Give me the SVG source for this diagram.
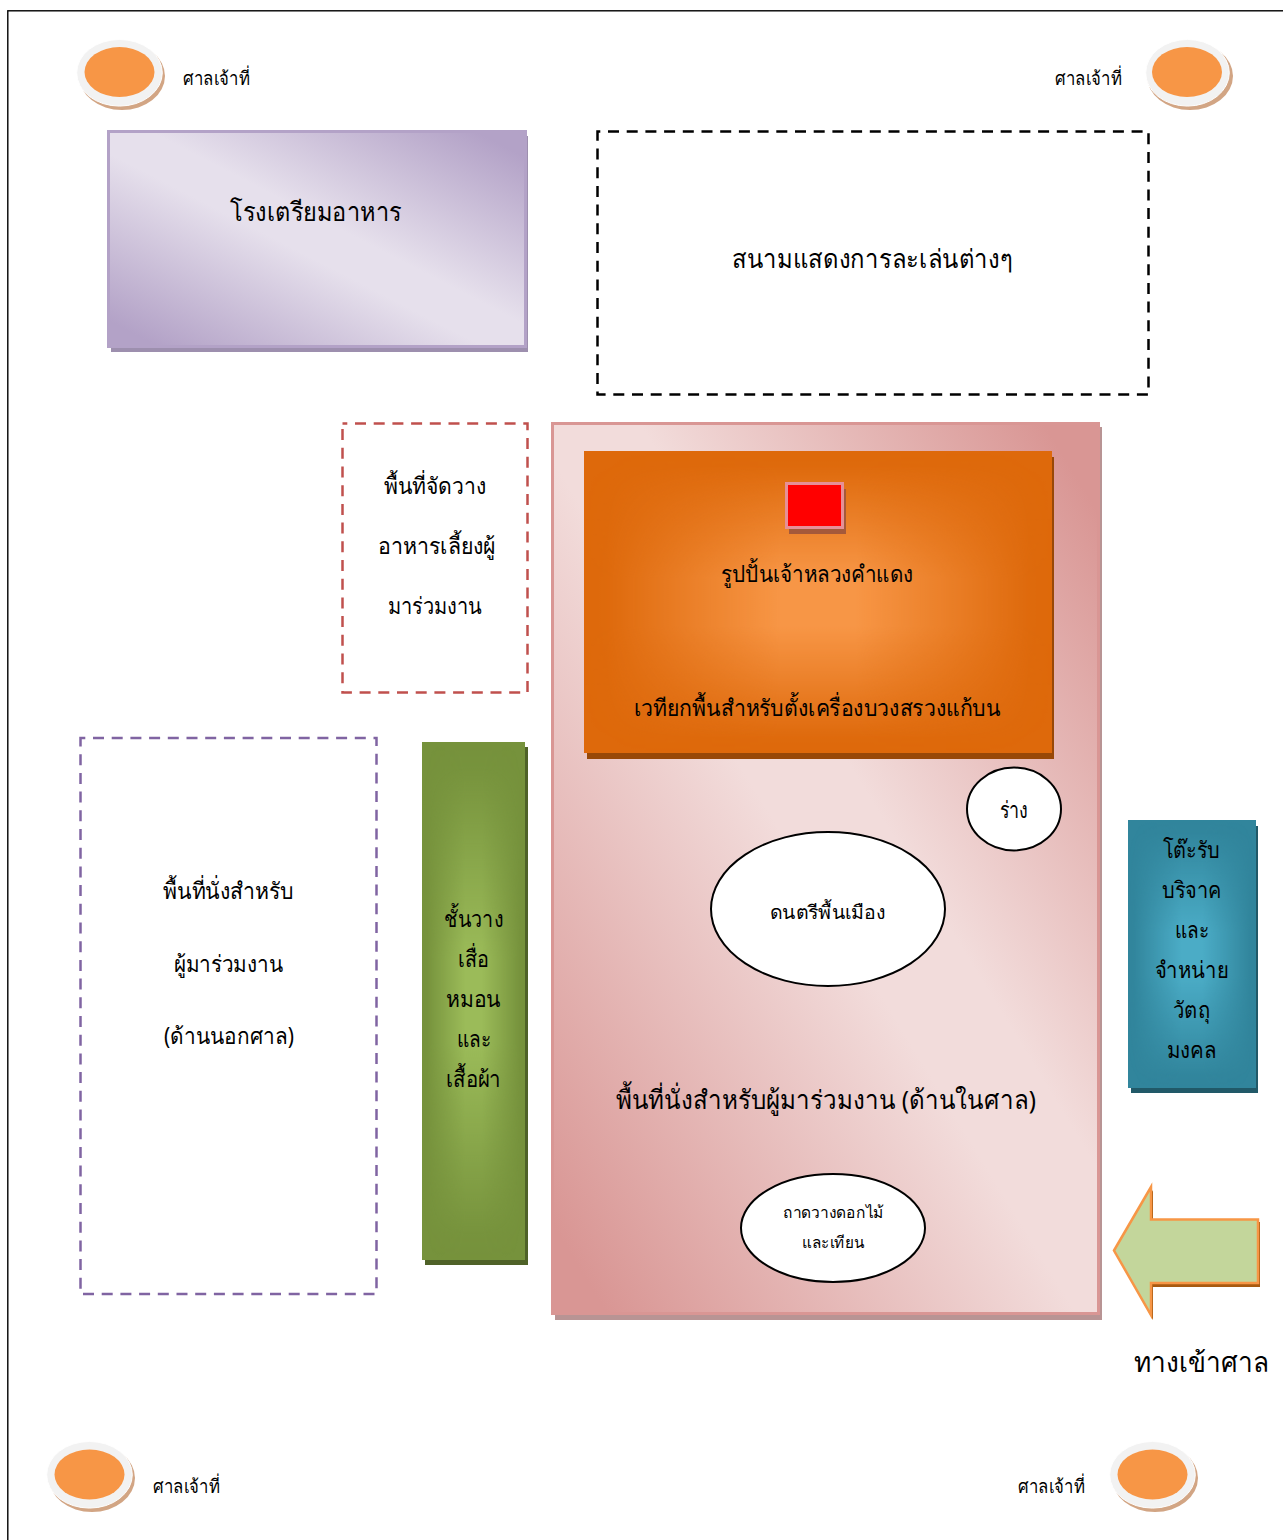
<svg xmlns="http://www.w3.org/2000/svg" width="1283" height="1540" viewBox="0 0 1283 1540">
<style>
text{font-family:"Noto Sans","DejaVu Sans","Liberation Sans",sans-serif;fill:#000;text-anchor:middle}
.s{font-size:19px}.m{font-size:23px}.l{font-size:26px}.xs{font-size:16px}
.sh{fill:#d2a584}.ring{fill:#f2f2f2;stroke:#fff;stroke-width:1}.core{fill:#f79646}
.e{fill:#fff;stroke:#000;stroke-width:2}
.d{fill:#fff;stroke-width:2.500;stroke-dasharray:11 7.700}
</style>
<defs>
<linearGradient id="gp" x1="1" y1="0" x2="0" y2="1"><stop offset="0" stop-color="#b3a2c7"/><stop offset=".06" stop-color="#b3a2c7"/><stop offset=".45" stop-color="#e6e0ec"/><stop offset=".55" stop-color="#e6e0ec"/><stop offset=".94" stop-color="#b3a2c7"/><stop offset="1" stop-color="#b3a2c7"/></linearGradient>
<linearGradient id="gr" x1="1" y1="0" x2="0" y2="1"><stop offset="0" stop-color="#d99694"/><stop offset=".05" stop-color="#d99694"/><stop offset=".42" stop-color="#f2dcdb"/><stop offset=".52" stop-color="#f2dcdb"/><stop offset=".95" stop-color="#d99694"/><stop offset="1" stop-color="#d99694"/></linearGradient>
<linearGradient id="hg"><stop offset="0" stop-color="#000"/><stop offset=".05" stop-color="#080808"/><stop offset=".25" stop-color="#909090"/><stop offset=".42" stop-color="#fff"/><stop offset=".58" stop-color="#fff"/><stop offset=".75" stop-color="#909090"/><stop offset=".95" stop-color="#080808"/><stop offset="1" stop-color="#000"/></linearGradient>
<linearGradient id="vg" x1="0" y1="0" x2="0" y2="1"><stop offset="0" stop-color="#000"/><stop offset=".05" stop-color="#080808"/><stop offset=".25" stop-color="#909090"/><stop offset=".42" stop-color="#fff"/><stop offset=".58" stop-color="#fff"/><stop offset=".75" stop-color="#909090"/><stop offset=".95" stop-color="#080808"/><stop offset="1" stop-color="#000"/></linearGradient>
<mask id="hm" maskContentUnits="objectBoundingBox" x="0" y="0" width="1" height="1"><rect width="1" height="1" fill="url(#hg)"/></mask>
<mask id="vm" maskContentUnits="objectBoundingBox" x="0" y="0" width="1" height="1"><rect width="1" height="1" fill="url(#vg)"/></mask>
</defs>
<rect x="7.800" y="10.800" width="1290" height="1545" fill="#fff" stroke="#000" stroke-width="1.400"/>
<g id="shrine-tl"><ellipse class="sh" cx="122" cy="76" rx="43" ry="34"/><ellipse class="ring" cx="119.500" cy="72.800" rx="42.800" ry="33.300"/><ellipse class="core" cx="119.500" cy="72" rx="35" ry="25"/><text class="s" x="216.500" y="85" textLength="67" lengthAdjust="spacingAndGlyphs">ศาลเจ้าที่</text></g>
<g id="shrine-tr"><ellipse class="sh" cx="1190" cy="76" rx="43" ry="34"/><ellipse class="ring" cx="1187.500" cy="72.800" rx="41.800" ry="33.300"/><ellipse class="core" cx="1187" cy="72" rx="35" ry="25"/><text class="s" x="1088.500" y="85" textLength="67" lengthAdjust="spacingAndGlyphs">ศาลเจ้าที่</text></g>
<g id="shrine-bl"><ellipse class="sh" cx="92" cy="1478" rx="43" ry="34"/><ellipse class="ring" cx="89.500" cy="1474.800" rx="42.800" ry="33.300"/><ellipse class="core" cx="89.500" cy="1474.500" rx="35" ry="25"/><text class="s" x="186.500" y="1493" textLength="67" lengthAdjust="spacingAndGlyphs">ศาลเจ้าที่</text></g>
<g id="shrine-br"><ellipse class="sh" cx="1155" cy="1478" rx="43" ry="34"/><ellipse class="ring" cx="1152.500" cy="1474.800" rx="42.800" ry="33.300"/><ellipse class="core" cx="1152.500" cy="1474.500" rx="35" ry="25"/><text class="s" x="1051.500" y="1493" textLength="67" lengthAdjust="spacingAndGlyphs">ศาลเจ้าที่</text></g>
<g id="kitchen"><rect x="111" y="136" width="417" height="216" fill="#9d8fae"/><rect x="108.500" y="131.500" width="417" height="215" fill="url(#gp)" stroke="#b3a2c7" stroke-width="3"/><text class="l" x="316" y="221" textLength="172" lengthAdjust="spacingAndGlyphs">โรงเตรียมอาหาร</text></g>
<g id="stage"><rect class="d" x="597.500" y="131.500" width="551" height="263" stroke="#000" stroke-dashoffset="8.200"/><text class="l" x="872.500" y="268" textLength="281" lengthAdjust="spacingAndGlyphs">สนามแสดงการละเล่นต่างๆ</text></g>
<g id="food"><rect class="d" x="342.500" y="423.500" width="185" height="269" stroke="#c0504d" stroke-dashoffset="6.200"/><text class="m" x="435" y="494" textLength="102" lengthAdjust="spacingAndGlyphs">พื้นที่จัดวาง</text><text class="m" x="436.500" y="554" textLength="117" lengthAdjust="spacingAndGlyphs">อาหารเลี้ยงผู้</text><text class="m" x="435" y="614" textLength="94" lengthAdjust="spacingAndGlyphs">มาร่วมงาน</text></g>
<g id="outer-seating"><rect class="d" x="80.500" y="738" width="296" height="556" stroke="#8064a2" stroke-dashoffset="6.200"/><text class="m" x="228.500" y="899" textLength="131" lengthAdjust="spacingAndGlyphs">พื้นที่นั่งสำหรับ</text><text class="m" x="228.500" y="972" textLength="109" lengthAdjust="spacingAndGlyphs">ผู้มาร่วมงาน</text><text class="m" x="229" y="1044" textLength="130" lengthAdjust="spacingAndGlyphs">(ด้านนอกศาล)</text></g>
<g id="shelf"><rect x="425" y="747" width="103" height="518" fill="#4f6228"/><rect x="422" y="742" width="103" height="518" fill="#76923c"/><g mask="url(#hm)"><rect x="422" y="742" width="103" height="518" fill="#9bbb59" mask="url(#vm)"/></g><text class="m" x="473.500" y="927" textLength="59" lengthAdjust="spacingAndGlyphs">ชั้นวาง</text><text class="m" x="473.500" y="967" textLength="31" lengthAdjust="spacingAndGlyphs">เสื่อ</text><text class="m" x="473.500" y="1007" textLength="55" lengthAdjust="spacingAndGlyphs">หมอน</text><text class="m" x="474" y="1047" textLength="34" lengthAdjust="spacingAndGlyphs">และ</text><text class="m" x="473.500" y="1087" textLength="55" lengthAdjust="spacingAndGlyphs">เสื้อผ้า</text></g>
<g id="hall"><rect x="555" y="427" width="547" height="893" fill="#b89494"/><rect x="552.500" y="423.500" width="546" height="890" fill="url(#gr)" stroke="#d99694" stroke-width="3"/><text class="l" x="826" y="1109" textLength="420" lengthAdjust="spacingAndGlyphs">พื้นที่นั่งสำหรับผู้มาร่วมงาน (ด้านในศาล)</text></g>
<g id="altar"><rect x="587" y="457" width="467" height="302" fill="#984807"/><rect x="584" y="451" width="468" height="302" fill="#de690b"/><g mask="url(#hm)"><rect x="584" y="451" width="468" height="302" fill="#f79646" mask="url(#vm)"/></g><rect x="789" y="489" width="57" height="45" fill="#a5593a"/><rect x="786.500" y="483.500" width="56" height="44" fill="#f00" stroke="#e69097" stroke-width="3"/><text class="m" x="817" y="582" textLength="192" lengthAdjust="spacingAndGlyphs">รูปปั้นเจ้าหลวงคำแดง</text><text class="m" x="817.500" y="716" textLength="367" lengthAdjust="spacingAndGlyphs">เวทียกพื้นสำหรับตั้งเครื่องบวงสรวงแก้บน</text></g>
<g id="drain"><ellipse class="e" cx="1014" cy="809" rx="47" ry="41.500"/><text class="m" x="1014" y="818" textLength="28" lengthAdjust="spacingAndGlyphs">ร่าง</text></g>
<g id="music"><ellipse class="e" cx="828" cy="909" rx="117" ry="77"/><text class="s" x="827.500" y="919" textLength="115" lengthAdjust="spacingAndGlyphs">ดนตรีพื้นเมือง</text></g>
<g id="tray"><ellipse class="e" cx="833" cy="1228" rx="92" ry="54"/><text class="xs" x="833.500" y="1218" textLength="101" lengthAdjust="spacingAndGlyphs">ถาดวางดอกไม้</text><text class="xs" x="833" y="1248" textLength="62" lengthAdjust="spacingAndGlyphs">และเทียน</text></g>
<g id="donation"><rect x="1131" y="826" width="127" height="267" fill="#215968"/><rect x="1128" y="820" width="128" height="268" fill="#31859c"/><g mask="url(#hm)"><rect x="1128" y="820" width="128" height="268" fill="#4bacc6" mask="url(#vm)"/></g><text class="m" x="1191.500" y="858" textLength="57" lengthAdjust="spacingAndGlyphs">โต๊ะรับ</text><text class="m" x="1191.500" y="898" textLength="59" lengthAdjust="spacingAndGlyphs">บริจาค</text><text class="m" x="1192" y="938" textLength="34" lengthAdjust="spacingAndGlyphs">และ</text><text class="m" x="1191.500" y="978" textLength="73" lengthAdjust="spacingAndGlyphs">จำหน่าย</text><text class="m" x="1191.500" y="1018" textLength="37" lengthAdjust="spacingAndGlyphs">วัตถุ</text><text class="m" x="1191.500" y="1058" textLength="49" lengthAdjust="spacingAndGlyphs">มงคล</text></g>
<g id="entrance"><polygon points="1116,1253 1153,1190 1153,1222 1260,1222 1260,1287 1153,1287 1153,1320" fill="#a85a10"/><polygon points="1114,1250.500 1151,1187 1151,1219.500 1258,1219.500 1258,1283 1151,1283 1151,1315" fill="#c3d69b" stroke="#f79646" stroke-width="2.500"/><text x="1201.500" y="1372" font-size="28" textLength="135" lengthAdjust="spacingAndGlyphs">ทางเข้าศาล</text></g>
<g id="connectors"/>
</svg>
